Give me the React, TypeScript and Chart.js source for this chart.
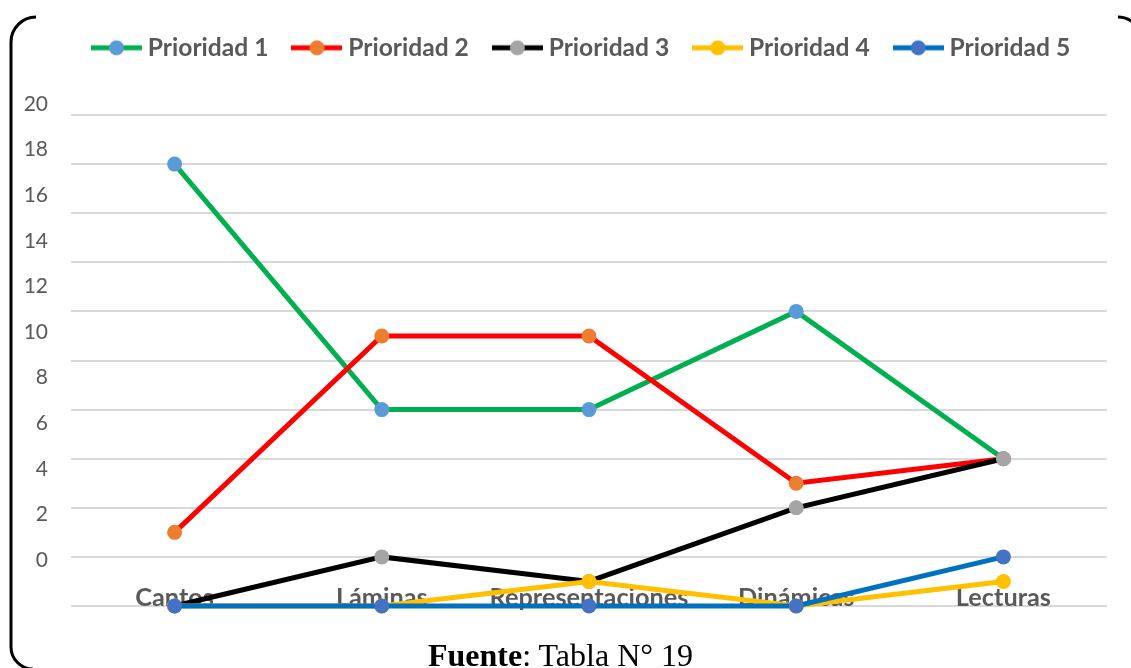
import React, { useEffect, useRef } from "react";
import { Chart, registerables } from "chart.js";

Chart.register(...registerables);

const categories = ["Cantos", "Láminas", "Representaciones", "Dinámicas", "Lecturas"];
const seriesNames = ["Prioridad 1", "Prioridad 2", "Prioridad 3", "Prioridad 4", "Prioridad 5"];
const prioridad1 = [18, 8, 8, 12, 6];
const prioridad2 = [3, 11, 11, 5, 6];
const prioridad3 = [0, 2, 1, 4, 6];
const prioridad4 = [0, 0, 1, 0, 1];
const prioridad5 = [0, 0, 0, 0, 2];
const yTickValues = [0, 2, 4, 6, 8, 10, 12, 14, 16, 18, 20];
const lineColors = ["#00B050", "#FF0000", "#000000", "#FFC000", "#0070C0"];
const markerColors = ["#5B9BD5", "#ED7D31", "#A5A5A5", "#FFC000", "#4472C4"];
const sourceBold = "Fuente";
const sourceRest = ": Tabla N° 19";

const FONT = "Lato, 'Open Sans', sans-serif";

// reference geometry (pixels)
const GRID0 = 606;
const GRID20 = 115;
const LABEL0 = 560;
const LABEL20 = 104;
const PLOT_LEFT = 71;
const LEGEND_START = 97.5;

function makeLegendImage(line: string, marker: string) {
  const c = document.createElement("canvas");
  c.width = 51;
  c.height = 18;
  const g = c.getContext("2d")!;
  g.strokeStyle = line;
  g.lineWidth = 5;
  g.beginPath();
  g.moveTo(0, 9);
  g.lineTo(51, 9);
  g.stroke();
  g.fillStyle = marker;
  g.beginPath();
  g.arc(25.5, 9, 7.5, 0, Math.PI * 2);
  g.fill();
  return c;
}

const framePlugin = {
  id: "frame",
  afterLayout(chart: any) {
    const lg = chart.legend;
    if (!lg || !lg.lineWidths) return;
    const pad = lg.options.labels.padding;
    const lw = lg.lineWidths[0];
    const start = (lg.left + pad + lg.right - lw) / 2;
    const shift = LEGEND_START - start;
    lg.left += shift;
    lg.right += shift;
  },
  afterDraw(chart: any) {
    const ctx = chart.ctx;
    ctx.save();
    ctx.strokeStyle = "#000";
    ctx.lineWidth = 3;
    ctx.beginPath();
    ctx.arc(36, 42, 25, -Math.PI / 2, Math.PI, true);
    ctx.lineTo(11, 647);
    ctx.arc(33, 647, 22, Math.PI, Math.PI / 2, true);
    ctx.stroke();
    ctx.beginPath();
    ctx.arc(1118, 40, 23, -Math.PI / 2, 0, false);
    ctx.stroke();
    ctx.restore();
  },
};

export default function App() {
  const ref = useRef<HTMLCanvasElement | null>(null);

  useEffect(() => {
    if (!ref.current) return;
    const allData = [prioridad1, prioridad2, prioridad3, prioridad4, prioridad5];
    const images = lineColors.map((c, i) => makeLegendImage(c, markerColors[i]));
    const chart = new Chart(ref.current, {
      type: "line",
      data: {
        labels: categories,
        datasets: allData.map((d, i) => ({
          label: seriesNames[i],
          data: d,
          borderColor: lineColors[i],
          backgroundColor: markerColors[i],
          pointBackgroundColor: markerColors[i],
          pointBorderColor: markerColors[i],
          pointBorderWidth: 0,
          pointRadius: 7.5,
          borderWidth: 5,
          tension: 0,
          fill: false,
          clip: false,
          order: 5 - i,
          yAxisID: "y",
        })),
      },
      options: {
        responsive: false,
        animation: false,
        events: [],
        layout: { padding: { top: 6, left: 0, right: 24, bottom: 0 } },
        plugins: {
          tooltip: { enabled: false },
          legend: {
            display: true,
            position: "top",
            labels: {
              usePointStyle: true,
              pointStyleWidth: 38,
              padding: 29.5,
              color: "#595959",
              font: { family: FONT, size: 24.6, weight: "bold" },
              generateLabels: () =>
                seriesNames.map((n, i) => ({
                  text: n,
                  fillStyle: markerColors[i],
                  strokeStyle: lineColors[i],
                  lineWidth: 0,
                  pointStyle: images[i],
                  hidden: false,
                  datasetIndex: i,
                  fontColor: "#595959",
                })),
            },
          },
        },
        scales: {
          x: {
            type: "category",
            offset: true,
            grid: { display: false, drawTicks: false },
            border: { display: false },
            ticks: {
              mirror: true,
              color: "#595959",
              font: { family: FONT, size: 25.3, weight: "bold" },
              padding: -7.5,
              maxRotation: 0,
              autoSkip: false,
            },
            afterFit: (s: any) => {
              s.height = 668 - GRID0;
            },
          },
          y: {
            position: "left",
            min: 0,
            max: 22,
            grid: { color: "#D9D9D9", lineWidth: 2, drawTicks: false },
            border: { display: false },
            ticks: { display: false },
            afterBuildTicks: (s: any) => {
              s.ticks = yTickValues.map((v) => ({ value: v }));
            },
            afterFit: (s: any) => {
              s.width = 0;
            },
          },
          y2: {
            position: "left",
            min: -2,
            max: 21,
            grid: { display: false, drawTicks: false },
            border: { display: false },
            ticks: {
              color: "#595959",
              font: { family: FONT, size: 21 },
              padding: 23,
              autoSkip: false,
            },
            afterBuildTicks: (s: any) => {
              s.ticks = yTickValues.map((v) => ({ value: v }));
            },
            afterFit: (s: any) => {
              s.width = PLOT_LEFT;
            },
          },
        },
      },
      plugins: [framePlugin],
    } as any);

    // align the scales to the reference's gridline and label positions
    const T = chart.chartArea.top;
    const B = chart.chartArea.bottom;
    const k = (GRID0 - GRID20) / 20;
    const k2 = (LABEL0 - LABEL20) / 20;
    const o: any = chart.options.scales;
    o.y.min = -(B - GRID0) / k;
    o.y.max = (GRID0 - T) / k;
    o.y2.min = -(B - LABEL0) / k2;
    o.y2.max = (LABEL0 - T) / k2;
    chart.update();

    return () => chart.destroy();
  }, []);

  return (
    <div
      style={{
        position: "absolute",
        left: 0,
        top: 0,
        width: 1131,
        height: 668,
        overflow: "hidden",
        background: "#fff",
      }}
    >
      <canvas ref={ref} width={1131} height={668} style={{ display: "block" }} />
      <div
        style={{
          position: "absolute",
          left: 428,
          top: 639,
          fontFamily: "'Liberation Serif', 'Times New Roman', serif",
          fontSize: 32,
          lineHeight: "32px",
          color: "#000",
          whiteSpace: "nowrap",
        }}
      >
        <b>{sourceBold}</b>
        {sourceRest}
      </div>
    </div>
  );
}
